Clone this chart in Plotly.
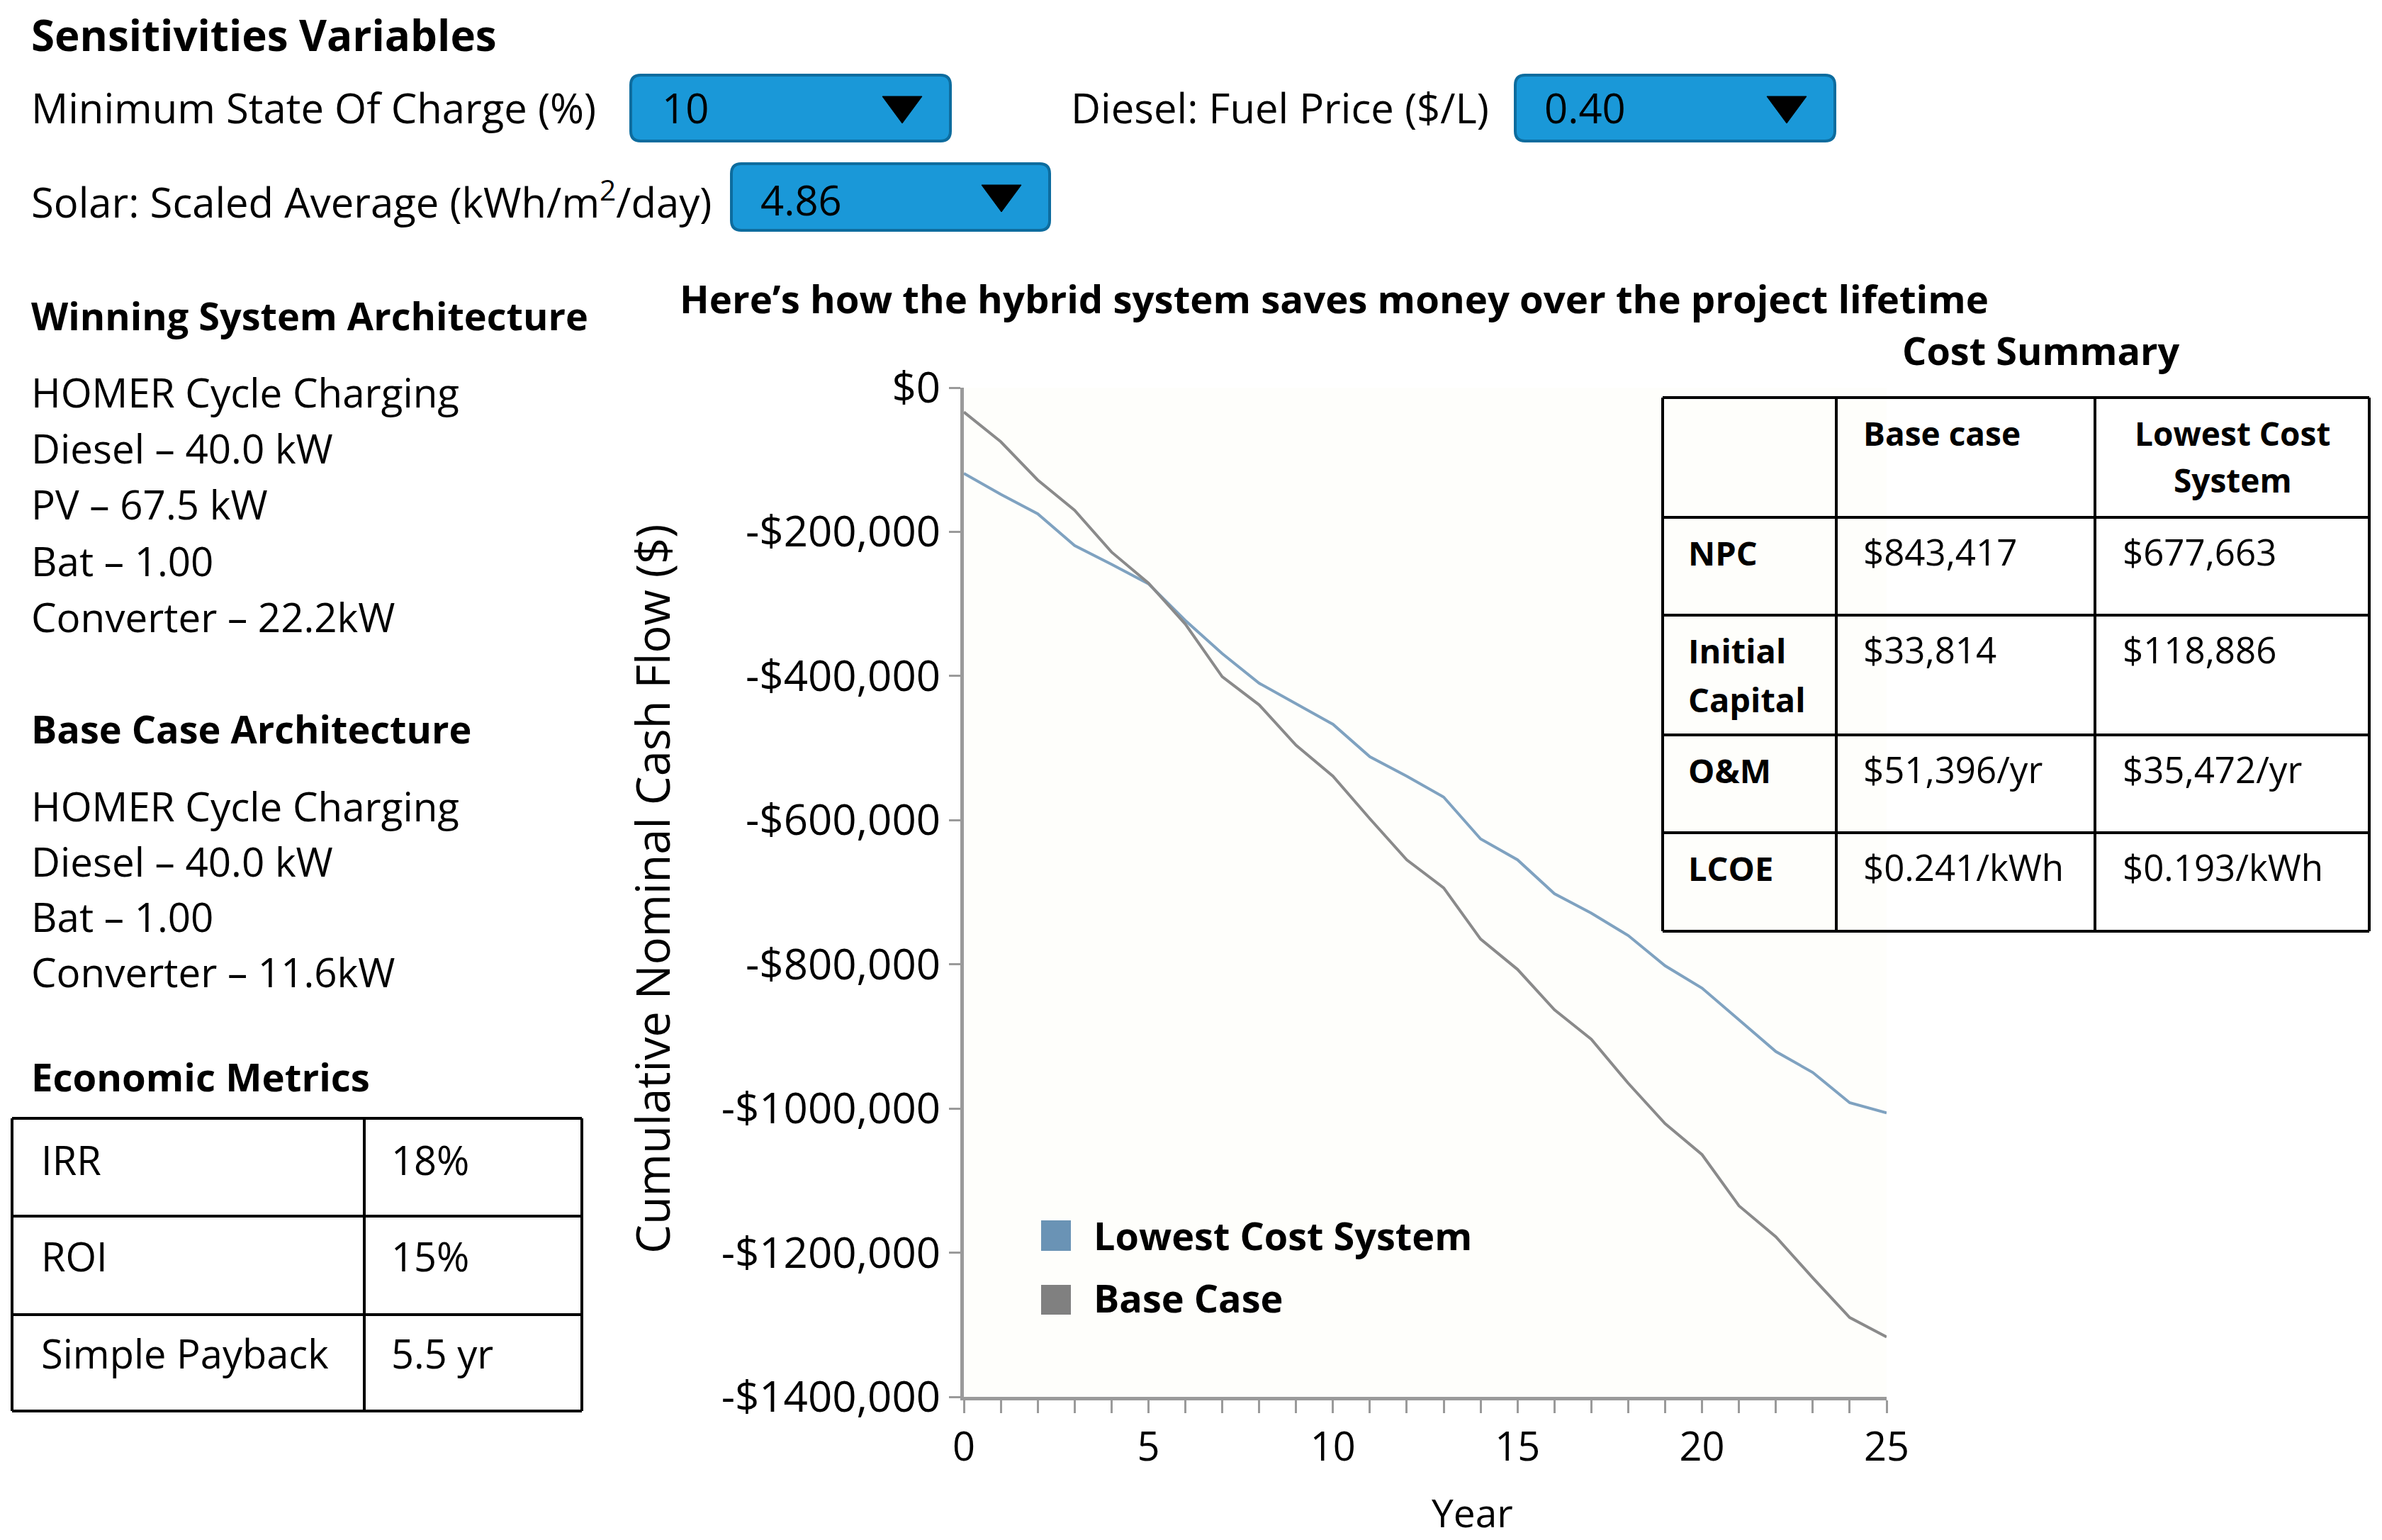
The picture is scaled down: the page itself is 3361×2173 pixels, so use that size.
import plotly.graph_objects as go

W, H = 3361, 2173
OFF = 8  # page body margin compensation

# ---------------- data ----------------
years = list(range(0, 26))
lowest_cost = [-118886, -148000, -175000, -219000, -245000, -272000, -323000, -369000,
               -410000, -438000, -467000, -512000, -539000, -568000, -626000, -655000,
               -702000, -729000, -760000, -802000, -833000, -877000, -921000, -950000,
               -992000, -1006000]
base_case = [-33814, -75000, -128000, -170000, -228000, -271000, -328000, -401000,
             -440000, -496000, -539000, -598000, -655000, -694000, -765000, -807000,
             -863000, -904000, -965000, -1021000, -1064000, -1135000, -1178000, -1235000,
             -1290000, -1317000]
y_tickvals = [0, -200000, -400000, -600000, -800000, -1000000, -1200000, -1400000]
y_ticktext = ["$0", "-$200,000", "-$400,000", "-$600,000", "-$800,000",
              "-$1000,000", "-$1200,000", "-$1400,000"]
x_tickvals = [0, 5, 10, 15, 20, 25]

series_names = ["Lowest Cost System", "Base Case"]

sens_labels = ["Minimum State Of Charge (%)", "Diesel: Fuel Price ($/L)",
               "Solar: Scaled Average (kWh/m<sup>2</sup>/day)"]
sens_values = ["10", "0.40", "4.86"]

winning_arch = ["HOMER Cycle Charging", "Diesel – 40.0 kW", "PV – 67.5 kW",
                "Bat – 1.00", "Converter – 22.2kW"]
base_arch = ["HOMER Cycle Charging", "Diesel – 40.0 kW", "Bat – 1.00",
             "Converter – 11.6kW"]

econ_labels = ["IRR", "ROI", "Simple Payback"]
econ_values = ["18%", "15%", "5.5 yr"]

cost_rows = ["NPC", "Initial<br>Capital", "O&M", "LCOE"]
cost_base = ["$843,417", "$33,814", "$51,396/yr", "$0.241/kWh"]
cost_lowest = ["$677,663", "$118,886", "$35,472/yr", "$0.193/kWh"]

# ---------------- helpers ----------------
def px(x):
    return (x - OFF) / W

def py(y):
    return 1 - (y - OFF) / H

FONT = "Open Sans"
annotations = []
shapes = []

def text(s, x, baseline, size, bold=False, anchor="left", color="#000000"):
    annotations.append(dict(
        text=s, xref="paper", yref="paper", x=px(x), y=py(baseline - 0.35 * size),
        xanchor=anchor, yanchor="middle", showarrow=False,
        font=dict(family=FONT, size=size, color=color, weight=700 if bold else 400),
        borderpad=0))

def line(x0, y0, x1, y1, color="#000000", width=4):
    shapes.append(dict(type="line", xref="paper", yref="paper",
                       x0=px(x0), y0=py(y0), x1=px(x1), y1=py(y1),
                       line=dict(color=color, width=width)))

def rect(x0, y0, x1, y1, fill, lc=None, lw=0):
    shapes.append(dict(type="rect", xref="paper", yref="paper",
                       x0=px(x0), y0=py(y0), x1=px(x1), y1=py(y1),
                       fillcolor=fill, line=dict(color=lc or fill, width=lw)))

def rounded(x0, y0, x1, y1, r, fill, lc, lw):
    p = (f"M {px(x0+r)},{py(y0)} L {px(x1-r)},{py(y0)} "
         f"Q {px(x1)},{py(y0)} {px(x1)},{py(y0+r)} L {px(x1)},{py(y1-r)} "
         f"Q {px(x1)},{py(y1)} {px(x1-r)},{py(y1)} L {px(x0+r)},{py(y1)} "
         f"Q {px(x0)},{py(y1)} {px(x0)},{py(y1-r)} L {px(x0)},{py(y0+r)} "
         f"Q {px(x0)},{py(y0)} {px(x0+r)},{py(y0)} Z")
    shapes.append(dict(type="path", xref="paper", yref="paper", path=p,
                       fillcolor=fill, line=dict(color=lc, width=lw)))

def triangle(cx, top, w, h):
    p = (f"M {px(cx - w/2)},{py(top)} L {px(cx + w/2)},{py(top)} "
         f"L {px(cx)},{py(top + h)} Z")
    shapes.append(dict(type="path", xref="paper", yref="paper", path=p,
                       fillcolor="#000000", line=dict(color="#000000", width=1)))

# ---------------- sensitivities ----------------
text("Sensitivities Variables", 43, 70, 60, bold=True)
boxes = [(890, 106, 1341, 199), (2138, 106, 2589, 199), (1032, 231, 1481, 325)]
label_pos = [(43, 172), (1510, 172), (43, 302)]
value_x = [933, 2178, 1072]
for lab, (lx, lb), val, vx, (bx0, by0, bx1, by1) in zip(sens_labels, label_pos,
                                                        sens_values, value_x, boxes):
    text(lab, lx, lb, 58)
    rounded(bx0, by0, bx1, by1, 14, "#1a98d8", "#0d6c9e", 4)
    text(val, vx, lb, 58)
    triangle(bx1 - 68, by0 + 30, 56, 38)

# ---------------- architecture blocks ----------------
text("Winning System Architecture", 43, 464, 54, bold=True)
for i, s in enumerate(winning_arch):
    text(s, 43, 573 + 79.3 * i, 56.5)
text("Base Case Architecture", 43, 1047, 54, bold=True)
for i, s in enumerate(base_arch):
    text(s, 43, 1157 + 78 * i, 56.5)

# ---------------- economic metrics table ----------------
text("Economic Metrics", 43, 1538, 54.5, bold=True)
ex = [17, 514, 821]
ey = [1578, 1716, 1855, 1991]
for yy in ey:
    line(ex[0], yy, ex[-1], yy)
for xx in ex:
    line(xx, ey[0], xx, ey[-1])
for i, (l, v) in enumerate(zip(econ_labels, econ_values)):
    b = [1656, 1792, 1929][i]
    text(l, 57, b, 56)
    text(v, 551, b, 56)

# ---------------- chart title ----------------
text("Here’s how the hybrid system saves money over the project lifetime", 958, 440, 54.5, bold=True)

# ---------------- cost summary table ----------------
text("Cost Summary", 2880, 513, 54, bold=True, anchor="center")
cx = [2346, 2591, 2956, 3343]
cy = [561, 730, 868, 1037, 1175, 1314]
for yy in cy:
    line(cx[0], yy, cx[-1], yy)
for xx in cx:
    line(xx, cy[0], xx, cy[-1])
text("Base case", 2628, 627, 46, bold=True)
text("Lowest Cost", 3150, 627, 46, bold=True, anchor="center")
text("System", 3150, 693, 46, bold=True, anchor="center")
row_base = [796, 934, 1103, 1241]
for r, b, lo, yb in zip(cost_rows, cost_base, cost_lowest, row_base):
    if "<br>" in r:
        a, c = r.split("<br>")
        text(a, 2381, yb, 47, bold=True)
        text(c, 2381, yb + 69, 47, bold=True)
    else:
        text(r, 2381, yb, 47, bold=True)
    text(b, 2628, yb, 51)
    text(lo, 2994, yb, 51)

# ---------------- legend (manual squares) ----------------
leg_colors = ["#6a93b5", "#808080"]
leg_box = [(1722, 1765, 1762), (1813, 1855, 1850)]
for name, col, (t, bt, bl) in zip(series_names, leg_colors, leg_box):
    rect(1469, t, 1511, bt, col)
    text(name, 1542, bl, 54, bold=True)

# ---------------- axis titles ----------------
annotations.append(dict(text="Cumulative Nominal Cash Flow ($)", xref="paper", yref="paper",
                        x=px(920), y=py(1254), xanchor="center", yanchor="middle",
                        textangle=-90, showarrow=False,
                        font=dict(family=FONT, size=65, color="#000000")))
text("Year", 2077, 2153, 55, anchor="center")

# ---------------- figure ----------------
fig = go.Figure()
fig.add_trace(go.Scatter(x=years, y=lowest_cost, mode="lines", name=series_names[0],
                         line=dict(color="#7fa2c0", width=4), showlegend=False))
fig.add_trace(go.Scatter(x=years, y=base_case, mode="lines", name=series_names[1],
                         line=dict(color="#8a8a8a", width=4), showlegend=False))

fig.update_layout(
    template="none",
    width=W, height=H, autosize=False,
    margin=dict(l=0, r=0, t=0, b=0, pad=0, autoexpand=False),
    paper_bgcolor="#ffffff", plot_bgcolor="#fefefb",
    font=dict(family=FONT, color="#000000"),
    showlegend=False,
    annotations=annotations, shapes=shapes,
    xaxis=dict(domain=[px(1360), px(2662)], range=[0, 25], tickvals=x_tickvals,
               automargin=False,
               showgrid=False, zeroline=False, showline=True, linecolor="#9a9a9a",
               linewidth=5, ticks="outside", ticklen=18, tickwidth=3, tickcolor="#9a9a9a",
               minor=dict(dtick=1, ticks="outside", ticklen=18, tickwidth=3,
                          tickcolor="#9a9a9a", showgrid=False),
               tickfont=dict(family=FONT, size=56, color="#000000"),
               fixedrange=True),
    yaxis=dict(domain=[py(1971), py(547)], range=[-1400000, 0], tickvals=y_tickvals,
               automargin=False,
               ticktext=y_ticktext, showgrid=False, zeroline=False, showline=True,
               linecolor="#9a9a9a", linewidth=5, ticks="outside", ticklen=16,
               tickwidth=3, tickcolor="#9a9a9a",
               tickfont=dict(family=FONT, size=60, color="#000000"),
               fixedrange=True),
)
fig.update_yaxes(ticklabelstandoff=0)
fig.update_xaxes(ticklabelstandoff=0)

fig.write_html("out.html")
